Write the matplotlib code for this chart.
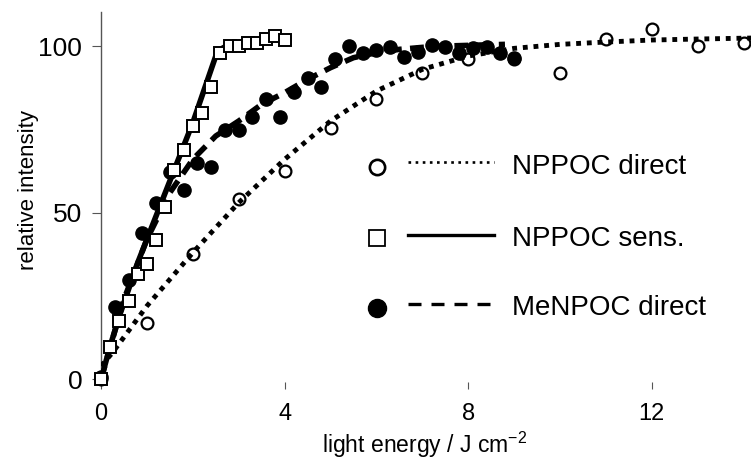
#!/usr/bin/env python3
"""Photodeprotection kinetics: relative intensity vs light energy."""

import matplotlib
matplotlib.use("Agg")
import matplotlib.pyplot as plt
from matplotlib.lines import Line2D

# NPPOC direct (open circles) and its fit (dotted)
nppoc_direct_x = [0, 1, 2, 3, 4, 5, 6, 7, 8, 9, 10, 11, 12, 13, 14]
nppoc_direct_y = [0, 17, 37.5, 54, 62.5, 75.5, 84, 92, 96, 96, 92, 102, 105, 100, 101]
nppoc_direct_fit_x = [0, 0.25, 1, 2, 3, 4, 5, 6, 7, 8, 9, 10, 11, 12, 13, 14.2]
nppoc_direct_fit_y = [4, 8, 22, 38, 53, 66, 77.5, 86.5, 93, 97, 99.3, 100.5, 101.2, 101.8, 102.1, 102.4]

# NPPOC sensitized (open squares) and its fit (solid)
nppoc_sens_x = [0, 0.2, 0.4, 0.6, 0.8, 1.0, 1.2, 1.4, 1.6, 1.8, 2.0,
                2.2, 2.4, 2.6, 2.8, 3.0, 3.2, 3.4, 3.6, 3.8, 4.0]
nppoc_sens_y = [0, 9.7, 17.5, 23.5, 31.5, 34.6, 41.8, 51.7, 62.8, 68.8, 76,
                79.8, 87.8, 98, 100, 100, 100.9, 101, 102.1, 103, 101.8]
nppoc_sens_fit_x = [0, 0.2, 0.4, 0.6, 0.8, 1.0, 1.2, 1.4, 1.6, 1.8, 2.0, 2.2,
                    2.4, 2.5, 2.6, 2.8, 3.0, 3.5, 4.0, 4.15]
nppoc_sens_fit_y = [0, 10, 19, 27, 35, 42, 49, 56, 63, 70, 77, 85,
                    93, 97, 99, 100.5, 101, 101.8, 102.2, 102]

# MeNPOC direct (filled circles) and its fit (dashed)
menpoc_x = [0, 0.3, 0.6, 0.9, 1.2, 1.5, 1.8, 2.1, 2.4, 2.7, 3.0, 3.3,
            3.6, 3.9, 4.2, 4.5, 4.8, 5.1, 5.4, 5.7, 6.0, 6.3, 6.6,
            6.9, 7.2, 7.5, 7.8, 8.1, 8.4, 8.7, 9.0]
menpoc_y = [0.7, 21.7, 29.7, 43.8, 52.9, 62.2, 56.8, 64.8, 63.8, 74.9, 74.9, 78.8,
            84.2, 78.8, 86.3, 90.4, 87.8, 96.2, 100, 98, 98.8, 99.8, 96.8,
            98.2, 100.3, 99.7, 97.9, 99.4, 99.8, 97.9, 96.5]
menpoc_fit_x = [0, 0.5, 1.0, 1.5, 2.0, 2.5, 3.0, 3.5, 4.0, 4.5, 5.0, 5.5, 6.0,
                6.5, 7.0, 7.5, 8.0, 8.8]
menpoc_fit_y = [0, 24, 42, 56, 66, 73, 77.5, 82.5, 86, 90, 93.5, 96.5, 98,
                99, 99.6, 100, 100.2, 100.5]

legend_labels = ["NPPOC direct", "NPPOC sens.", "MeNPOC direct"]

plt.rcParams['font.family'] = ['Liberation Sans', 'DejaVu Sans']
plt.rcParams['mathtext.default'] = 'regular'

fig = plt.figure(figsize=(7.51, 4.59), dpi=100)
ax = fig.add_axes([0.1345, 0.1678, 0.8655, 0.806])

dotted = (0, (1, 1.2))

# NPPOC direct
ax.plot(nppoc_direct_x, nppoc_direct_y, 'o', ms=8.5, mfc='white', mec='black',
        mew=1.6, clip_on=False, zorder=3)
ax.plot(nppoc_direct_fit_x, nppoc_direct_fit_y, color='black', lw=3.5,
        linestyle=dotted, dash_capstyle='butt', zorder=4)

# NPPOC sens.
ax.plot(nppoc_sens_fit_x, nppoc_sens_fit_y, color='black', lw=4, zorder=2,
        solid_capstyle='butt')
ax.plot(nppoc_sens_x, nppoc_sens_y, 's', ms=8.5, mfc='white', mec='black',
        mew=1.4, clip_on=False, zorder=5)

# MeNPOC direct
ax.plot(menpoc_x, menpoc_y, 'o', ms=9.5, color='black', clip_on=False, zorder=3)
ax.plot(menpoc_fit_x, menpoc_fit_y, color='black', lw=4, linestyle=(0, (2.5, 1.5)),
        dash_capstyle='butt', zorder=3)

ax.set_xlim(0, 14.16)
ax.set_ylim(-0.8, 110.2)
ax.set_xticks([0, 4, 8, 12])
ax.set_yticks([0, 50, 100])

for side in ['top', 'right', 'bottom']:
    ax.spines[side].set_visible(False)
ax.spines['left'].set_color('#555555')
ax.spines['left'].set_linewidth(1.0)
ax.tick_params(axis='y', direction='out', length=6.5, color='#555555', labelsize=19, pad=7)
ax.tick_params(axis='x', direction='out', length=5, color='#555555', labelsize=17, pad=10)

ax.set_ylabel('relative intensity', fontsize=16, va='top')
ax.yaxis.set_label_coords(-0.127, 0.519)
ax.set_xlabel('light energy / J cm$^{-2}$', fontsize=16.5, va='top')
ax.xaxis.set_label_coords(0.498, -0.128)

# hand-made legend: marker, then line sample, then label
text_y = [0.581, 0.387, 0.2]
marker_y = [0.581, 0.389, 0.2]
line_y = [0.595, 0.397, 0.211]
handles = [
    dict(marker='o', ms=11, mfc='white', mec='black', mew=1.9),
    dict(marker='s', ms=11, mfc='white', mec='black', mew=1.3),
    dict(marker='o', ms=13, mfc='black', mec='black', mew=1.0),
]
styles = [dict(linestyle=(0, (1, 1.7)), lw=1.9), dict(linestyle='-', lw=2.4),
          dict(linestyle=(0, (3.9, 3)), lw=2.4)]
for ty, my, ly, h, st, lab in zip(text_y, marker_y, line_y, handles, styles, legend_labels):
    ax.add_line(Line2D([0.4246], [my], transform=ax.transAxes, linestyle='none',
                       clip_on=False, **h))
    ax.add_line(Line2D([0.472, 0.605], [ly, ly], transform=ax.transAxes,
                       color='black', dash_capstyle='butt', clip_on=False, **st))
    ax.text(0.632, ty, lab, transform=ax.transAxes, fontsize=20, va='center', ha='left')

fig.savefig('out.png', dpi=100)
